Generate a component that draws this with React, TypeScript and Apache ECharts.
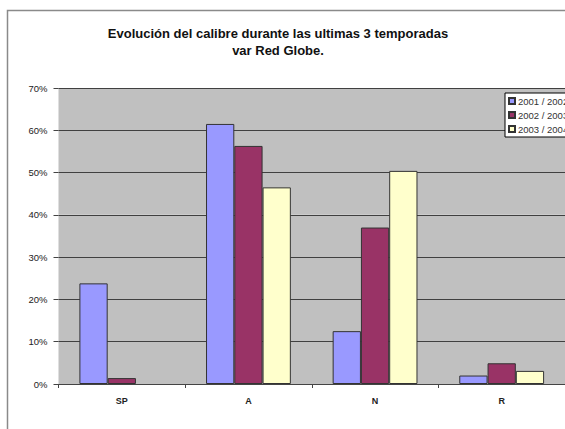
import React, { useEffect, useRef } from "react";
import * as echarts from "echarts";

const categories = ["SP", "A", "N", "R"];
const seriesNames = ["2001 / 2002", "2002 / 2003", "2003 / 2004"];
const s2001 = [0.238, 0.615, 0.125, 0.02];
const s2002 = [0.014, 0.563, 0.37, 0.049];
const s2003 = [0, 0.465, 0.504, 0.031];
const yTicks = [0, 0.1, 0.2, 0.3, 0.4, 0.5, 0.6, 0.7];
const colors = ["#9999ff", "#993366", "#ffffcc"];

export default function App() {
  const ref = useRef<HTMLDivElement>(null);
  useEffect(() => {
    document.body.style.margin = "0";
    const chart = echarts.init(ref.current!, null, { renderer: "svg" });
    const data = [s2001, s2002, s2003];
    chart.setOption({
      animation: false,
      backgroundColor: "#ffffff",
      textStyle: { fontFamily: "Liberation Sans, Arial, sans-serif" },
      title: {
        text: "Evolución del calibre durante las ultimas 3 temporadas\nvar Red Globe.",
        left: 273,
        top: 20,
        textAlign: "center",
        textStyle: {
          fontSize: 13,
          fontWeight: "bold",
          color: "#111",
          lineHeight: 17,
          fontFamily: "Liberation Sans, Arial, sans-serif",
        },
      },
      graphic: [
        {
          type: "rect",
          shape: { x: 7.5, y: 10.5, width: 600, height: 500 },
          style: { fill: "none", stroke: "#8a8a8a", lineWidth: 1.5 },
          z: 0,
        },
      ],
      legend: {
        orient: "vertical",
        left: 505,
        top: 93,
        itemWidth: 6,
        itemHeight: 6,
        itemGap: 4,
        icon: "rect",
        padding: [3, 4, 3, 3],
        backgroundColor: "#ffffff",
        borderColor: "#000",
        borderWidth: 1,
        textStyle: { fontSize: 9.5, color: "#333", padding: [0, 0, 0, -2] },
        data: seriesNames,
      },
      grid: { left: 58.5, top: 88, height: 296, width: 518 },
      xAxis: {
        type: "category",
        data: categories,
        axisLine: { lineStyle: { color: "#444", width: 1 } },
        axisTick: { show: true, length: 4, lineStyle: { color: "#444" } },
        axisLabel: { fontSize: 9, fontWeight: "bold", color: "#222", margin: 12 },
      },
      yAxis: {
        type: "value",
        min: 0,
        max: 0.7,
        interval: 0.1,
        axisLine: { show: false },
        axisTick: { show: true, length: 5, lineStyle: { color: "#444" } },
        axisLabel: {
          fontSize: 9.5,
          color: "#222",
          margin: 11,
          formatter: (v: number) => {
            const t = yTicks.find((x) => Math.abs(x - v) < 1e-6);
            return Math.round((t ?? v) * 100) + "%";
          },
        },
        splitLine: { lineStyle: { color: "#404040", width: 1 } },
        splitArea: { show: true, areaStyle: { color: ["#c0c0c0"] } },
      },
      series: seriesNames.map((name, i) => ({
        name,
        type: "bar",
        data: data[i].map((v) =>
          v === 0 ? { value: v, itemStyle: { borderWidth: 0 } } : v
        ),
        barGap: "0%",
        barCategoryGap: "33%",
        itemStyle: { color: colors[i], borderColor: "#333", borderWidth: 1 },
      })),
    });
    return () => chart.dispose();
  }, []);
  return (
    <div
      ref={ref}
      style={{ position: "fixed", left: 0, top: 0, width: 565, height: 429 }}
    />
  );
}
